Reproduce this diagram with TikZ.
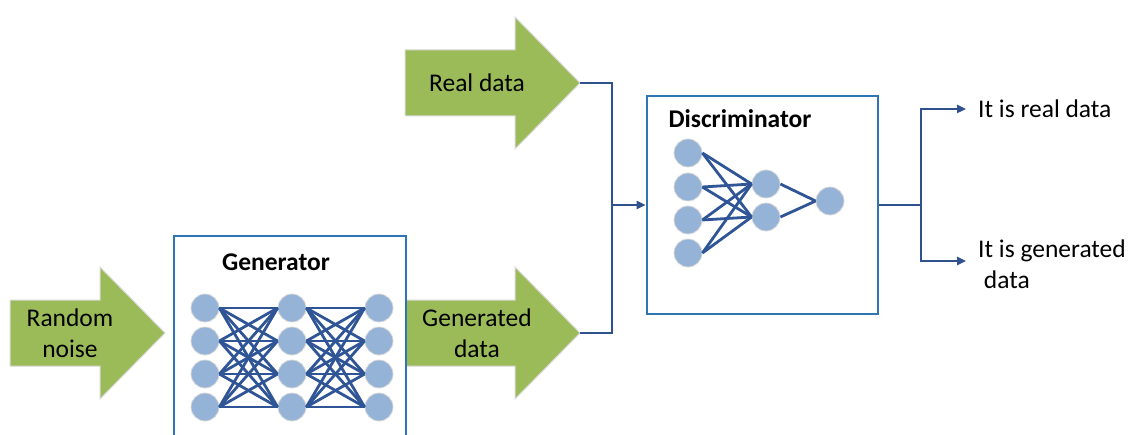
\documentclass[tikz,border=0pt]{standalone}
\usepackage{fontspec}
\setmainfont{Carlito}
\usetikzlibrary{arrows.meta}
\definecolor{agreen}{HTML}{9BBB59}
\definecolor{nfill}{HTML}{95B3D7}
\definecolor{edgec}{HTML}{2F5597}
\definecolor{boxc}{HTML}{2E75B6}
\definecolor{connc}{HTML}{2F528F}
\tikzset{
 neuron/.style={circle, fill=nfill, draw=white!85!black, line width=0.8pt, minimum size=28pt, inner sep=0pt},
 nnedge/.style={draw=edgec, line width=2.8pt},
 bigarrow/.style={fill=agreen, draw=white!85!black, line width=1pt},
 panel/.style={draw=boxc, line width=2.6pt, fill=white, rectangle, inner sep=0pt},
 connline/.style={draw=connc, line width=2.6pt},
 txt/.style={font=\fontsize{25.5}{31}\selectfont, align=center, inner sep=0pt},
 ttl/.style={font=\fontsize{25.5}{31}\selectfont\bfseries, inner sep=0pt},
 tipped/.style={-{Triangle[length=9pt,width=8pt]}}
}
% x0, xh, xt, yc : body left, head start, tip, centre line
\newcommand{\fatarrow}[4]{%
  \path[bigarrow] (#1,#4-33) -- (#2,#4-33) -- (#2,#4-66) -- (#3,#4) -- (#2,#4+66) -- (#2,#4+33) -- (#1,#4+33) -- cycle;}
\begin{document}
\begin{tikzpicture}[x=1pt,y=-1pt]
\clip (0,0) rectangle (1131,435);
\fill[white] (0,0) rectangle (1131,435);

% big arrows
\fatarrow{10}{100}{165}{333}
\fatarrow{405}{515}{580}{83}
\fatarrow{405}{515}{580}{333}
\node[txt] (noise) at (70,333) {Random\\noise};
\node[txt] (real) at (477,83) {Real data};
\node[txt] (gen) at (477,333) {Generated\\data};
\coordinate (rtip) at (580,83);
\coordinate (gtip) at (580,333);

% generator
\node[panel, minimum width=232pt, minimum height=206pt] (genbox) at (290,339) {};
\node[ttl] (gtitle) at (276,262) {Generator};
\foreach \c/\x in {1/205,2/292,3/379}{
  \foreach \r/\y in {1/308,2/341,3/374,4/407}{
    \node[neuron] (g\c\r) at (\x,\y) {};
  }
}
\foreach \a in {1,2,3,4}{
  \foreach \b in {1,2,3,4}{
    \draw[nnedge] (g1\a.east) -- (g2\b.west);
    \draw[nnedge] (g2\a.east) -- (g3\b.west);
  }
}

% discriminator
\node[panel, minimum width=231pt, minimum height=218pt] (disc) at (762.5,205) {};
\node[ttl] (dtitle) at (740,119) {Discriminator};
\foreach \r/\y in {1/153,2/187,3/220,4/253}{
  \node[neuron] (d1\r) at (688,\y) {};
}
\node[neuron] (d21) at (766,184) {};
\node[neuron] (d22) at (766,217) {};
\node[neuron] (d31) at (830,201) {};
\foreach \a in {1,2,3,4}{
  \foreach \b in {1,2}{
    \draw[nnedge] (d1\a.east) -- (d2\b.west);
  }
}
\draw[nnedge] (d21.east) -- (d31.west);
\draw[nnedge] (d22.east) -- (d31.west);

% connectors
\coordinate (j1) at (612,205);
\draw[connline] (rtip) -| (j1);
\draw[connline] (gtip) -| (j1);
\draw[connline, tipped] (j1) -- (disc.west);

\coordinate (j2) at (921,205);
\coordinate (o1) at (966,109);
\coordinate (o2) at (966,261);
\draw[connline] (disc.east) -- (j2);
\draw[connline, tipped] (j2) |- (o1);
\draw[connline, tipped] (j2) |- (o2);

\node[txt, anchor=west] (out1) at (978,109) {It is real data};
\node[txt, anchor=west, align=left] (out2) at (978,264) {It is generated\\\ data};
\end{tikzpicture}
\end{document}
